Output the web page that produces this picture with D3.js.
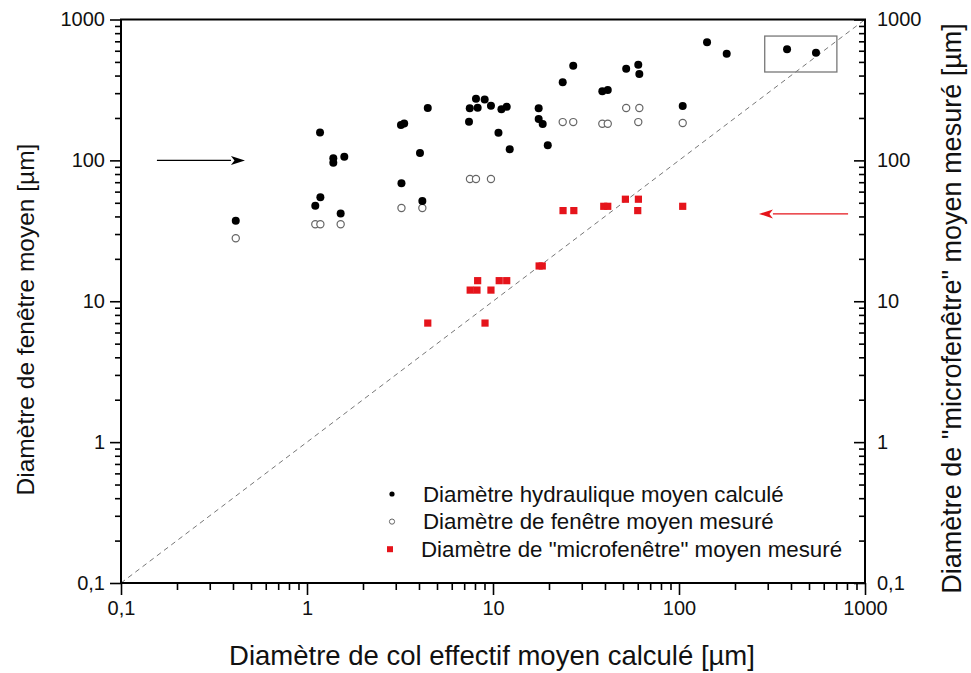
<!DOCTYPE html>
<html>
<head>
<meta charset="utf-8">
<script src="https://cdn.jsdelivr.net/npm/d3@7"></script>
<style>
  body { margin: 0; background: #fff; }
  text { font-family: "Liberation Sans", Arial, sans-serif; }
</style>
</head>
<body>
<div id="chart"></div>
<script>
// [col effectif, diametre]
const hydraulique = [
  [0.414, 37.3], [1.108, 47.7], [1.18, 54.7], [1.175, 158], [1.385, 103.5], [1.385, 96.3],
  [1.587, 106], [1.517, 41.9], [3.2, 178], [3.33, 183], [3.22, 68.8], [4.17, 51.5],
  [4.05, 113], [4.46, 235], [7.43, 188], [7.5, 234], [8.27, 236], [8.1, 274],
  [9.02, 270], [9.75, 244], [11.1, 231], [11.85, 240], [10.7, 157], [12.3, 120],
  [17.6, 234], [17.6, 197], [18.5, 181], [19.7, 128], [23.7, 358], [27, 470],
  [38.7, 309], [41.4, 316], [52, 448], [60.4, 478], [61.2, 411], [104.7, 243],
  [141.5, 689], [180.5, 572], [381, 615], [545, 581]
];
const fenetre = [
  [0.414, 28.0], [1.108, 35.2], [1.18, 35.2], [1.517, 35.2], [3.22, 45.9], [4.17, 45.9],
  [7.52, 73.8], [8.1, 73.8], [9.75, 73.8], [23.7, 187], [27, 187], [38.7, 182],
  [41.4, 182], [52, 235.5], [61.2, 235.5], [60.4, 187], [104.7, 184]
];
const microfenetre = [
  [4.46, 7.0], [9.06, 7.0], [7.54, 12.0], [8.2, 12.0], [8.27, 14.0], [9.75, 12.0],
  [10.8, 14.0], [11.85, 14.0], [17.7, 17.8], [18.4, 17.8], [23.8, 44], [27.2, 44],
  [39.4, 47.2], [41.4, 47.2], [51.5, 53], [60.5, 53], [60, 44], [104.7, 47.2]
];

const majorTicks = [0.1, 1, 10, 100, 1000];
const tickLabels = ["0,1", "1", "10", "100", "1000"];
const minorTicks = [0.1, 1, 10, 100].flatMap(d => [2, 3, 4, 5, 6, 7, 8, 9].map(k => +(d * k).toPrecision(3)));

const legendLabels = [
  "Diamètre hydraulique moyen calculé",
  "Diamètre de fenêtre moyen mesuré",
  "Diamètre de \"microfenêtre\" moyen mesuré"
];
const xTitle = "Diamètre de col effectif moyen calculé [µm]";
const yTitle = "Diamètre de fenêtre moyen [µm]";
const y2Title = "Diamètre de \"microfenêtre\" moyen mesuré [µm]";

// zoom box and arrows, in data units
const box = { x0: 289, x1: 706, y0: 424, y1: 763 };
const blackArrow = { x0: 0.156, x1: 0.464, y: 100 };
const redArrow = { x0: 811, x1: 269, y: 41.7 };

const width = 971, height = 673;
const margin = { top: 19.5, right: 106, bottom: 90, left: 121 };
const w = width - margin.left - margin.right;
const h = height - margin.top - margin.bottom;
const red = "#e5141b";

const svg = d3.select("#chart").append("svg")
  .attr("width", width)
  .attr("height", height)
  .append("g")
  .attr("transform", `translate(${margin.left},${margin.top})`);

const x = d3.scaleLog().domain([0.1, 1000]).range([0, w]);
const y = d3.scaleLog().domain([0.1, 1000]).range([h, 0]);

// diagonal y = x
svg.append("line")
  .attr("x1", x(0.1)).attr("y1", y(0.1))
  .attr("x2", x(1000)).attr("y2", y(1000))
  .style("stroke", "#777")
  .style("stroke-width", 1)
  .style("stroke-dasharray", "5,4");

// zoom box
svg.append("rect")
  .attr("x", x(box.x0)).attr("y", y(box.y1))
  .attr("width", x(box.x1) - x(box.x0))
  .attr("height", y(box.y0) - y(box.y1))
  .style("fill", "none")
  .style("stroke", "#777")
  .style("stroke-width", 1.3);

// axes
function styleAxis(g) {
  g.select(".domain").remove();
  g.selectAll(".tick line").style("stroke", "#000").style("stroke-width", 1.6);
  g.selectAll("text").style("font-size", "20px").style("fill", "#111");
}
const fmt = d => tickLabels[majorTicks.indexOf(d)];

svg.append("g").attr("transform", `translate(0,${h})`)
  .call(d3.axisBottom(x).tickValues(majorTicks).tickFormat(fmt).tickSize(12).tickPadding(6))
  .call(styleAxis);
svg.append("g").attr("transform", `translate(0,${h})`)
  .call(d3.axisBottom(x).tickValues(minorTicks).tickFormat("").tickSize(7))
  .call(styleAxis);

svg.append("g")
  .call(d3.axisLeft(y).tickValues(majorTicks).tickFormat(fmt).tickSize(11).tickPadding(5))
  .call(styleAxis);
svg.append("g")
  .call(d3.axisLeft(y).tickValues(minorTicks).tickFormat("").tickSize(6))
  .call(styleAxis);

svg.append("g").attr("transform", `translate(${w},0)`)
  .call(d3.axisRight(y).tickValues(majorTicks).tickFormat(fmt).tickSize(-11).tickPadding(12))
  .call(styleAxis);
svg.append("g").attr("transform", `translate(${w},0)`)
  .call(d3.axisRight(y).tickValues(minorTicks).tickFormat("").tickSize(-6))
  .call(styleAxis);

// frame
svg.append("rect")
  .attr("width", w).attr("height", h)
  .style("fill", "none")
  .style("stroke", "#000")
  .style("stroke-width", 2);

// axis titles
svg.append("text")
  .attr("transform", `translate(${w / 2 - 1}, ${h + 82})`)
  .style("text-anchor", "middle")
  .style("font-size", "27.5px")
  .style("fill", "#111")
  .text(xTitle);

svg.append("text")
  .attr("transform", `translate(${-margin.left + 34}, 300) rotate(-90)`)
  .style("text-anchor", "middle")
  .style("font-size", "24.5px")
  .style("fill", "#111")
  .text(yTitle);

svg.append("text")
  .attr("transform", `translate(${w + 96}, 289) rotate(-90)`)
  .style("text-anchor", "middle")
  .style("font-size", "27px")
  .style("fill", "#111")
  .text(y2Title);

// points
svg.selectAll(".fen")
  .data(fenetre)
  .enter().append("circle")
  .attr("cx", d => x(d[0]))
  .attr("cy", d => y(d[1]))
  .attr("r", 3.6)
  .style("fill", "#fff")
  .style("stroke", "#666")
  .style("stroke-width", 1.2);

svg.selectAll(".hyd")
  .data(hydraulique)
  .enter().append("circle")
  .attr("cx", d => x(d[0]))
  .attr("cy", d => y(d[1]))
  .attr("r", 4)
  .style("fill", "#000");

svg.selectAll(".micro")
  .data(microfenetre)
  .enter().append("rect")
  .attr("x", d => x(d[0]) - 3.6)
  .attr("y", d => y(d[1]) - 3.6)
  .attr("width", 7.2)
  .attr("height", 7.2)
  .style("fill", red);

// arrows
function arrow(a, color, headLen, headHalf) {
  const x0 = x(a.x0), x1 = x(a.x1), yy = y(a.y);
  const dir = Math.sign(x1 - x0);
  svg.append("line")
    .attr("x1", x0).attr("y1", yy)
    .attr("x2", x1 - dir * headLen).attr("y2", yy)
    .style("stroke", color)
    .style("stroke-width", 1.1);
  svg.append("path")
    .attr("d", `M${x1},${yy}L${x1 - dir * headLen},${yy - headHalf}L${x1 - dir * headLen * 0.75},${yy}L${x1 - dir * headLen},${yy + headHalf}Z`)
    .style("fill", color);
}
arrow(blackArrow, "#000", 14, 4.5);
arrow(redArrow, red, 14, 4.5);

// legend
const legend = svg.append("g").attr("transform", `translate(${392 - margin.left}, ${494 - margin.top})`);
const rowGap = 27.6;
legendLabels.forEach((label, i) => {
  const row = legend.append("g").attr("transform", `translate(0, ${i * rowGap})`);
  if (i === 0) {
    row.append("circle").attr("r", 2.6).style("fill", "#000");
  } else if (i === 1) {
    row.append("circle").attr("r", 2.6).style("fill", "#fff").style("stroke", "#666").style("stroke-width", 1);
  } else {
    row.append("rect").attr("x", -5).attr("y", -3).attr("width", 6).attr("height", 6).style("fill", red);
  }
  row.append("text")
    .attr("x", i === 2 ? 29 : 31)
    .attr("dy", "0.35em")
    .style("font-size", "22.3px")
    .style("fill", "#111")
    .text(label);
});
</script>
</body>
</html>
